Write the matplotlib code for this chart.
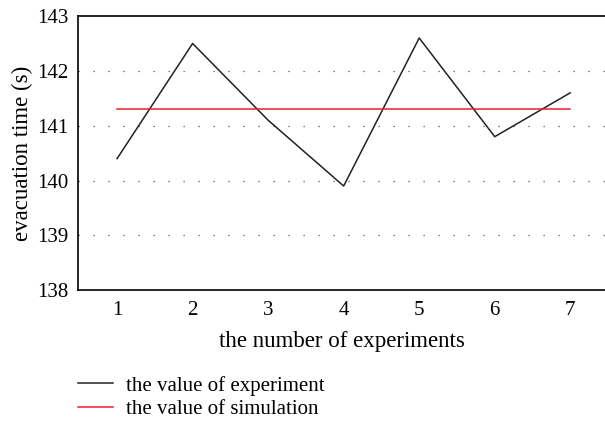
import matplotlib
matplotlib.use("Agg")
import matplotlib.pyplot as plt

experiments = [1, 2, 3, 4, 5, 6, 7]
experiment_values = [140.4, 142.5, 141.1, 139.9, 142.6, 140.8, 141.6]
simulation_values = [141.3] * 7

plt.rcParams['font.family'] = ['Liberation Serif', 'DejaVu Serif']

fig = plt.figure(figsize=(6.05, 4.23), dpi=100)
ax = fig.add_axes([0.129, 0.314, 0.871, 0.648])

l1, = ax.plot(experiments, experiment_values, color='#222222', lw=1.1)
l2, = ax.plot(experiments, simulation_values, color='#e8202a', lw=1.1)

ax.set_xlim(0.483, 7.46)
ax.set_ylim(138, 143)
ax.set_xticks(experiments)
ax.set_yticks([138, 139, 140, 141, 142, 143])
ax.tick_params(length=0, labelsize=15, pad=8)
ax.tick_params(axis='y', pad=7)
for y in [139, 140, 141, 142]:
    ax.axhline(y, color='#555555', lw=0.9, ls=(0, (1, 11)), zorder=0)

ax.spines['right'].set_visible(False)
for s in ['left', 'top', 'bottom']:
    ax.spines[s].set_linewidth(1.2)

ax.set_xlabel("the number of experiments", fontsize=16.5, labelpad=8)
ax.set_ylabel("evacuation time (s)", fontsize=16.5, labelpad=3)

fig.legend([l1, l2], ["the value of experiment", "the value of simulation"],
           loc='upper left', bbox_to_anchor=(0.129, 0.112), frameon=False,
           fontsize=15, handlelength=1.7, handletextpad=0.62, labelspacing=0.2,
           borderpad=0, borderaxespad=0)

fig.savefig("out.png", dpi=100)
